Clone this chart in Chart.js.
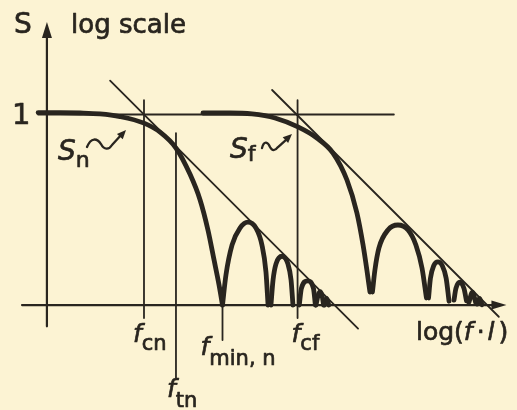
<!DOCTYPE html>
<html>
<head>
<meta charset="utf-8">
<script src="https://cdn.jsdelivr.net/npm/chart.js@4/dist/chart.umd.min.js"></script>
<style>
  html, body { margin: 0; padding: 0; background: #fcf3d3; }
  canvas { display: block; }
</style>
</head>
<body>
<canvas id="c" width="517" height="410"></canvas>
<script>
// Spectra of a near-field and a far-field signal, drawn on log-log axes.
// x: log(f·l), y: log S, with S = 1 at y = 10.

// Near-field spectrum S_n: main roll-off, then side lobes between nulls
const snMain = [[-0.46,10.05],[0.68,10.05],[1.73,10.03],[2.77,9.98],[3.82,9.84],[5.07,9.5],
  [5.91,9.03],[6.74,8.2],[7.47,6.84],[8.0,5.49],[8.41,3.92],[8.73,2.35],[8.99,1.05],[9.17,0]];
const snLobe1 = [[9.17,0],[9.35,1.57],[9.67,3.14],[10.08,4.02],[10.5,4.33],[10.92,4.02],[11.23,3.14],[11.44,1.73],[11.55,0]];
const snLobe2 = [[11.70,0],[11.81,1.31],[11.96,2.14],[12.28,2.55],[12.59,2.14],[12.75,1.31],[12.85,0]];
const snLobe3 = [[13.18,0],[13.29,0.87],[13.61,1.26],[13.92,0.87],[14.02,0]];
const snLobe4 = [[14.05,0],[14.16,0.5],[14.26,0.7],[14.37,0.5],[14.45,0]];
const snLobe5 = [[14.5,0],[14.61,0.35],[14.72,0]];

// Far-field spectrum S_f
const sfMain = [[8.15,10.03],[9.56,10.03],[10.71,9.98],[11.91,9.77],[13.11,9.3],[14.10,8.72],
  [14.94,7.94],[15.67,6.53],[16.19,4.81],[16.51,3.14],[16.71,1.83],[16.87,0.68]];
const sfLobe1 = [[17.0,0.68],[17.13,1.83],[17.34,2.98],[17.81,3.92],[18.33,4.18],[18.86,3.92],[19.27,3.14],[19.59,1.93],[19.82,0.37]];
const sfLobe2 = [[19.93,0.37],[20.03,1.4],[20.2,2.05],[20.42,2.25],[20.65,2.05],[20.85,1.4],[21.0,0.2]];
const sfLobe3 = [[21.26,0.26],[21.36,0.87],[21.57,1.2],[21.78,0.87],[21.91,0.22]];
const sfLobe4 = [[22.04,0.15],[22.22,0.68],[22.40,0.1]];
const sfLobe5 = [[22.46,0.05],[22.59,0.35],[22.72,0.02]];

// Straight asymptotes (slope -1) and the S = 1 level
const asymNear = [[3.3,11.72],[16.25,-1.23]];
const asymFar = [[11.76,11.23],[23.6,-0.61]];
const unitLevel = 9.95;
const unitSpan = [-0.46, 18.12];

// Characteristic frequencies
const freqSub = ['cn', 'tn', 'min, n', 'cf'];
const freqX = [5.07, 6.74, 9.17, 13.09];
const freqTop = [10.7, 8.98, 0, 10.7];
const freqBottom = [-0.68, -3.81, -1.83, -0.68];

// Axes
const xAxisSpan = [-1.30, 24.0];
const yAxisSpan = [-1.11, 14.78];

const ink = '#29251f';
const paper = '#fcf3d3';
const FONT = '"DejaVu Sans", "Liberation Sans", sans-serif';

const pts = a => a.map(([x, y]) => ({ x, y }));
function series(points, width, smooth) {
  return {
    data: pts(points),
    showLine: true,
    borderColor: ink,
    borderWidth: width,
    pointRadius: 0,
    fill: false,
    tension: 0,
    cubicInterpolationMode: smooth ? 'monotone' : 'default',
    borderCapStyle: 'round',
    borderJoinStyle: 'round'
  };
}

const datasets = [
  series([[xAxisSpan[0], 0], [xAxisSpan[1] - 0.5, 0]], 2.2, false),
  series([[0, yAxisSpan[0]], [0, yAxisSpan[1] - 0.5]], 2.2, false),
  series([[unitSpan[0], unitLevel], [unitSpan[1], unitLevel]], 1.8, false),
  series(asymNear, 1.8, false),
  series(asymFar, 1.8, false)
];
freqX.forEach((x, i) => datasets.push(series([[x, freqTop[i]], [x, freqBottom[i]]], 1.8, false)));
[snMain, snLobe1, snLobe2, snLobe3, snLobe4, snLobe5,
 sfMain, sfLobe1, sfLobe2, sfLobe3, sfLobe4, sfLobe5].forEach(c => {
  datasets.push(series(c, 4.8, true));
});

function drawParts(ctx, x, y, parts) {
  let cx = x;
  for (const p of parts) {
    ctx.font = (p.italic ? 'italic ' : '') + p.size + 'px ' + FONT;
    ctx.fillText(p.t, cx, y + (p.dy || 0));
    ctx.strokeText(p.t, cx, y + (p.dy || 0));
    cx += ctx.measureText(p.t).width + (p.gap || 0);
  }
}

function arrowHead(ctx, tx, ty, angle, len, half) {
  ctx.beginPath();
  ctx.moveTo(tx, ty);
  ctx.lineTo(tx - len * Math.cos(angle) + half * Math.sin(angle), ty - len * Math.sin(angle) - half * Math.cos(angle));
  ctx.lineTo(tx - len * Math.cos(angle) - half * Math.sin(angle), ty - len * Math.sin(angle) + half * Math.cos(angle));
  ctx.closePath();
  ctx.fill();
}

const decorations = {
  id: 'decorations',
  beforeDraw(chart) {
    const ctx = chart.ctx;
    ctx.save();
    ctx.fillStyle = paper;
    ctx.fillRect(0, 0, chart.width, chart.height);
    ctx.restore();
  },
  afterDatasetsDraw(chart) {
    const { ctx, scales: { x: xs, y: ys } } = chart;
    const px = v => xs.getPixelForValue(v);
    const py = v => ys.getPixelForValue(v);
    ctx.save();
    ctx.fillStyle = ink;
    ctx.strokeStyle = ink;
    ctx.textBaseline = 'alphabetic';
    ctx.textAlign = 'left';

    // axis arrowheads
    arrowHead(ctx, px(xAxisSpan[1]), py(0), 0, 15, 4.5);
    arrowHead(ctx, px(0), py(yAxisSpan[1]), -Math.PI / 2, 16, 5);

    // text gets a thin outline for a slightly heavier stroke
    ctx.lineWidth = 0.7;
    ctx.lineJoin = 'round';

    // axis titles
    drawParts(ctx, 14, 33, [{ t: 'S', size: 28 }]);
    drawParts(ctx, 71, 33, [{ t: 'log scale', size: 26 }]);
    drawParts(ctx, 12, py(10) + 10, [{ t: '1', size: 29 }]);
    drawParts(ctx, 416, 340, [
      { t: 'log(', size: 25 },
      { t: 'f', size: 25, italic: true, gap: 4 },
      { t: '·', size: 25, gap: 3 },
      { t: 'l', size: 25, italic: true, gap: 4 },
      { t: ')', size: 25 }
    ]);

    // frequency labels under the axis
    const offs = [[-11, 342, 8], [-9, 397, 10], [-22, 355, 10], [-6, 342, 8]];
    freqX.forEach((x, i) => {
      const [dx, base, dy] = offs[i];
      drawParts(ctx, px(x) + dx, base, [
        { t: 'f', size: 25, italic: true, gap: 0 },
        { t: freqSub[i], size: 21, dy }
      ]);
    });

    // curve names with wavy pointers
    drawParts(ctx, 58, 160, [{ t: 'S', size: 28, italic: true }, { t: 'n', size: 22, dy: 7 }]);
    drawParts(ctx, 230, 158, [{ t: 'S', size: 28, italic: true }, { t: 'f', size: 22, dy: 3 }]);

    ctx.lineWidth = 2.3;
    ctx.lineCap = 'round';
    // pointer to S_n
    let tx = px(4.13), ty = py(9.14);
    ctx.beginPath();
    ctx.moveTo(tx - 39, ty + 17);
    ctx.bezierCurveTo(tx - 35, ty + 7, tx - 29, ty + 8, tx - 25, ty + 14);
    ctx.bezierCurveTo(tx - 22, ty + 20, tx - 17, ty + 20, tx - 14, ty + 15);
    ctx.lineTo(tx - 4, ty + 4);
    ctx.stroke();
    arrowHead(ctx, tx, ty, Math.atan2(-15, 14), 9, 4);

    // pointer to S_f
    tx = px(12.8); ty = py(8.93);
    ctx.beginPath();
    ctx.moveTo(tx - 30, ty + 14);
    ctx.bezierCurveTo(tx - 28, ty + 6, tx - 24, ty + 8, tx - 22, ty + 13);
    ctx.bezierCurveTo(tx - 20, ty + 17, tx - 17, ty + 17, tx - 14, ty + 13);
    ctx.lineTo(tx - 4, ty + 4);
    ctx.stroke();
    arrowHead(ctx, tx, ty, Math.atan2(-13, 14), 9, 4);

    ctx.restore();
  }
};

new Chart(document.getElementById('c'), {
  type: 'scatter',
  data: { datasets },
  options: {
    responsive: false,
    animation: false,
    events: [],
    layout: { padding: 0 },
    plugins: { legend: { display: false }, tooltip: { enabled: false } },
    scales: {
      x: { type: 'linear', min: -2.45, max: 24.55, display: false },
      y: { type: 'linear', min: -5.48, max: 15.93, display: false }
    }
  },
  plugins: [decorations]
});
</script>
</body>
</html>
